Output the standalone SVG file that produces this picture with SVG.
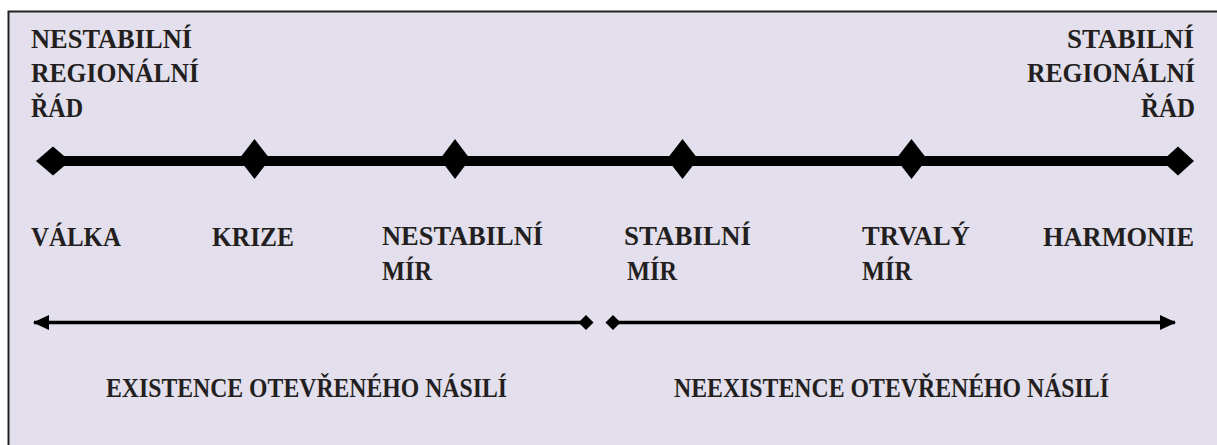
<svg xmlns="http://www.w3.org/2000/svg" width="1217" height="445" viewBox="0 0 1217 445">
<style>
.t{font-family:"Liberation Serif","Times New Roman",serif;font-weight:bold;font-size:28px;fill:#231f20}
.d{fill:#000}
</style>
<defs>
<marker id="ah" markerWidth="16" markerHeight="15" refX="15" refY="7.5" orient="auto-start-reverse" markerUnits="userSpaceOnUse">
<path d="M0,0 L16,7.5 L0,15 Z" fill="#000"/>
</marker>
</defs>
<rect id="frame" x="8.5" y="11.5" width="1215" height="440" fill="#e4dfed" stroke="#222" stroke-width="2"/>
<g id="label-unstable-order">
<text class="t" x="31" y="48" textLength="161" lengthAdjust="spacingAndGlyphs">NESTABILNÍ</text>
<text class="t" x="31" y="82" textLength="168" lengthAdjust="spacingAndGlyphs">REGIONÁLNÍ</text>
<text class="t" x="31" y="117" textLength="52" lengthAdjust="spacingAndGlyphs">ŘÁD</text>
</g>
<g id="label-stable-order">
<text class="t" x="1067" y="48" textLength="127" lengthAdjust="spacingAndGlyphs">STABILNÍ</text>
<text class="t" x="1027" y="82" textLength="168" lengthAdjust="spacingAndGlyphs">REGIONÁLNÍ</text>
<text class="t" x="1141" y="117" textLength="54" lengthAdjust="spacingAndGlyphs">ŘÁD</text>
</g>
<g id="connectors">
<line x1="52" y1="161" x2="1178" y2="161" stroke="#000" stroke-width="10"/>
<line x1="34" y1="322.5" x2="586" y2="322.5" stroke="#000" stroke-width="3.5" marker-start="url(#ah)"/>
<line x1="613" y1="322.5" x2="1175" y2="322.5" stroke="#000" stroke-width="3.5" marker-end="url(#ah)"/>
<path class="d" d="M578.5,322.5 L586,315 L593.5,322.5 L586,330 Z"/>
<path class="d" d="M605.5,322.5 L613,315 L620.5,322.5 L613,330 Z"/>
</g>
<g id="node-valka"><path class="d" d="M36,161 L53,146.5 L70,161 L53,175.5 Z"/><text class="t" x="31" y="246" textLength="90" lengthAdjust="spacingAndGlyphs">VÁLKA</text></g>
<g id="node-krize"><path class="d" d="M239,159 L254.5,139 L270,159 L254.5,179 Z"/><text class="t" x="212" y="246" textLength="82" lengthAdjust="spacingAndGlyphs">KRIZE</text></g>
<g id="node-nestabilni-mir"><path class="d" d="M440,159 L455,139 L470,159 L455,179 Z"/><text class="t" x="382" y="245" textLength="161" lengthAdjust="spacingAndGlyphs">NESTABILNÍ</text><text class="t" x="382" y="280" textLength="50" lengthAdjust="spacingAndGlyphs">MÍR</text></g>
<g id="node-stabilni-mir"><path class="d" d="M667,159 L682.5,139 L698,159 L682.5,179 Z"/><text class="t" x="624" y="245" textLength="127" lengthAdjust="spacingAndGlyphs">STABILNÍ</text><text class="t" x="627" y="280" textLength="50" lengthAdjust="spacingAndGlyphs">MÍR</text></g>
<g id="node-trvaly-mir"><path class="d" d="M896,159 L911.5,139 L927,159 L911.5,179 Z"/><text class="t" x="862" y="245" textLength="108" lengthAdjust="spacingAndGlyphs">TRVALÝ</text><text class="t" x="862" y="280" textLength="50" lengthAdjust="spacingAndGlyphs">MÍR</text></g>
<g id="node-harmonie"><path class="d" d="M1162,161 L1178,146.5 L1194,161 L1178,175.5 Z"/><text class="t" x="1043" y="246" textLength="151" lengthAdjust="spacingAndGlyphs">HARMONIE</text></g>
<g id="label-existence"><text class="t" x="106" y="397" textLength="401" lengthAdjust="spacingAndGlyphs">EXISTENCE OTEVŘENÉHO NÁSILÍ</text></g>
<g id="label-neexistence"><text class="t" x="674" y="397" textLength="435" lengthAdjust="spacingAndGlyphs">NEEXISTENCE OTEVŘENÉHO NÁSILÍ</text></g>
</svg>
